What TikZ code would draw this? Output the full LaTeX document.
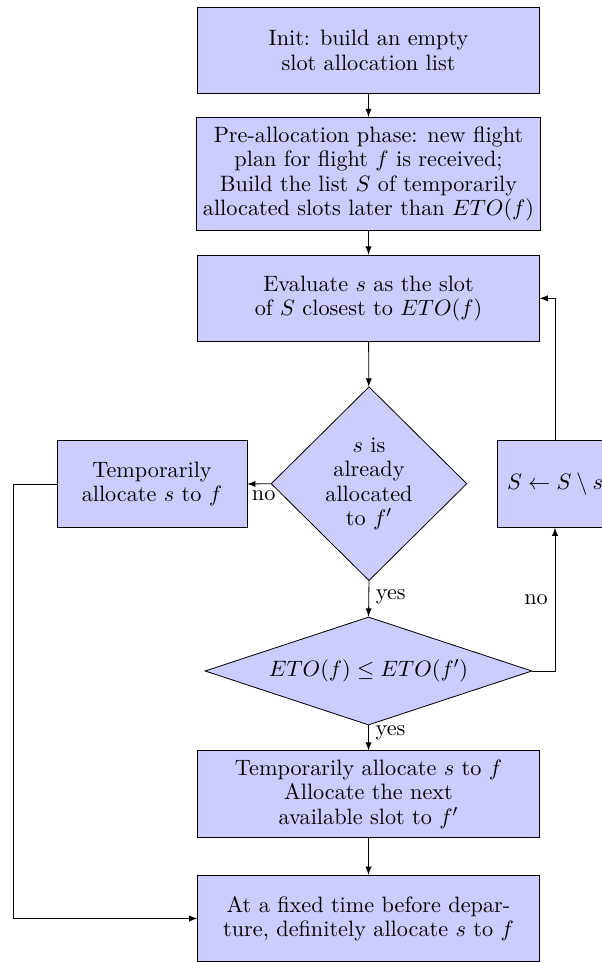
\documentclass[tikz,border=0pt]{standalone}
\usepackage{amssymb,amsmath}
\usepackage{tikz}
\usetikzlibrary{arrows}
\usetikzlibrary{shapes.geometric}
\definecolor{boxcolor}{HTML}{CCCCFF}

\begin{document}
\begin{tikzpicture}[scale=1,font=\fontsize{10.95}{12}\selectfont,
  block/.style={rectangle, draw=black, fill=boxcolor, align=center, minimum height=1.5cm},
  decision/.style={diamond, draw=black, fill=boxcolor, align=center, inner sep=0pt},
  flow/.style={draw, -latex}]
\useasboundingbox (0,0) rectangle (10.417,-16.664);
%% main column
\node[block, minimum width=168.2pt] (init) at (6.377,-0.874) {Init: build an empty\\ slot allocation list};
\node[block, minimum width=168.2pt, minimum height=55.8pt] (pre) at (6.377,-3.011) {Pre-allocation phase: new flight\\ plan for flight $f$ is received;\\ Build the list $S$ of temporarily\\ allocated slots later than $ETO(f)$};
\node[block, minimum width=168.2pt] (eval) at (6.377,-5.162) {Evaluate $s$ as the slot\\ of $S$ closest to $ETO(f)$};
\node[decision, aspect=1.01, minimum width=96.4pt, minimum height=95.5pt] (taken) at (6.385,-8.370) {$s$ is\\ already\\ allocated\\ to $f'$};
\node[decision, aspect=3.03, minimum width=161pt, minimum height=53.2pt] (earlier) at (6.377,-11.611) {$ETO(f) \leq ETO(f')$};
\node[block, minimum width=168.2pt] (swap) at (6.377,-13.743) {Temporarily allocate $s$ to $f$\\ Allocate the next\\ available slot to $f'$};
\node[block, minimum width=168.2pt] (final) at (6.377,-15.894) {At a fixed time before depar-\\ture, definitely allocate $s$ to $f$};
%% side boxes
\node[block, minimum width=93.5pt] (tempo) at (2.630,-8.375) {Temporarily\\ allocate $s$ to $f$};
\node[block, minimum width=56.7pt] (remove) at (9.604,-8.375) {$S \leftarrow S \setminus s$};
\coordinate (back) at (0.230,-8.375);
%% arrows
\draw[flow] (init) -- (pre);
\draw[flow] (pre) -- (eval);
\draw[flow] (eval) -- (taken);
\draw[flow] (taken.west) -- node[below, pos=0.3] {no} (tempo.east);
\draw[flow] (taken.south) -- node[right, pos=0.45] {yes} (earlier.north);
\draw[flow] (earlier.south) -- node[right, pos=0.3] {yes} (swap.north);
\draw[flow] (earlier.east) -| node[left, pos=0.75] {no} (remove.south);
\draw[flow] (remove.north) |- (eval.east);
\draw[flow] (tempo.west) -- (back) |- (final.west);
\draw[flow] (swap) -- (final);
\end{tikzpicture}
\end{document}
